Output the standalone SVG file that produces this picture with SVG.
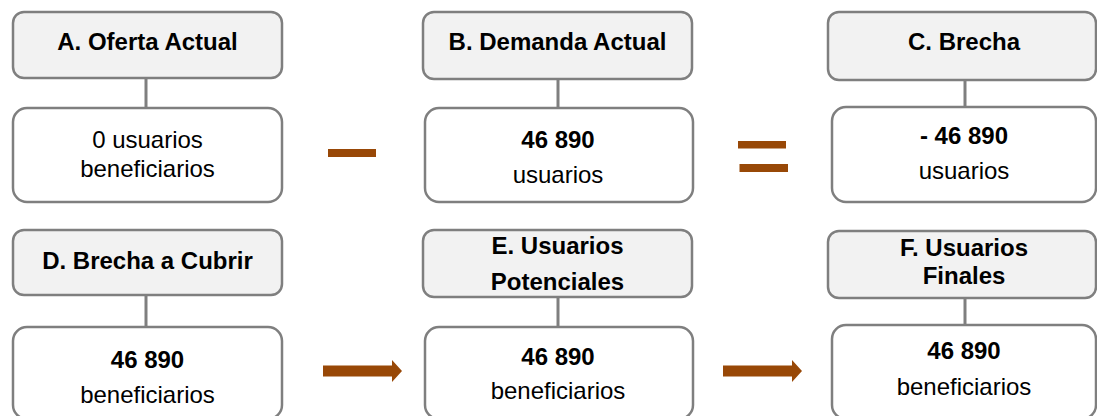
<svg xmlns="http://www.w3.org/2000/svg" width="1097" height="416" viewBox="0 0 1097 416">
<style>
.hd{fill:#f2f2f2;stroke:#7f7f7f;stroke-width:2.5}
.bd{fill:#ffffff;stroke:#7f7f7f;stroke-width:2.5}
.ln{stroke:#7f7f7f;stroke-width:3;fill:none}
.op{fill:#984807}
text{font-family:"Liberation Sans",Arial,sans-serif;font-size:24px;fill:#000;text-anchor:middle}
.b{font-weight:bold}
</style>
<rect width="1097" height="416" fill="#ffffff"/>
<g id="connectors">
<line class="ln" x1="146" y1="78" x2="146" y2="108"/>
<line class="ln" x1="558" y1="79" x2="558" y2="108"/>
<line class="ln" x1="965" y1="80" x2="965" y2="107"/>
<line class="ln" x1="146" y1="295" x2="146" y2="327"/>
<line class="ln" x1="558" y1="297" x2="558" y2="327"/>
<line class="ln" x1="965" y1="298" x2="965" y2="325"/>
</g>
<g id="operators">
<rect class="op" x="328" y="149" width="48" height="8"/>
<rect class="op" x="738" y="141" width="48" height="7.5"/>
<rect class="op" x="739.5" y="164" width="48.5" height="8"/>
<path class="op" d="M323 365.5 H392 V360 L402 371 L392 382 V376.5 H323 Z"/>
<path class="op" d="M723 365.5 H792 V360 L802 371 L792 382 V376.5 H723 Z"/>
</g>
<g id="nodeA">
<rect class="hd" x="13" y="12" width="269" height="66" rx="11"/>
<text class="b" x="147.5" y="50">A. Oferta Actual</text>
</g>
<g id="nodeA_val">
<rect class="bd" x="13" y="108" width="269" height="94" rx="14"/>
<text x="147.5" y="148">0 usuarios</text>
<text x="147.5" y="177">beneficiarios</text>
</g>
<g id="nodeB">
<rect class="hd" x="423" y="12" width="269" height="67" rx="11"/>
<text class="b" x="557.5" y="50">B. Demanda Actual</text>
</g>
<g id="nodeB_val">
<rect class="bd" x="425" y="108" width="268" height="94" rx="14"/>
<text class="b" x="558" y="148">46 890</text>
<text x="558" y="183">usuarios</text>
</g>
<g id="nodeC">
<rect class="hd" x="828" y="12" width="268" height="68" rx="11"/>
<text class="b" x="964" y="50">C. Brecha</text>
</g>
<g id="nodeC_val">
<rect class="bd" x="832" y="107" width="264" height="95" rx="14"/>
<text class="b" x="964" y="144">- 46 890</text>
<text x="964" y="179">usuarios</text>
</g>
<g id="nodeD">
<rect class="hd" x="13" y="230" width="269" height="65" rx="11"/>
<text class="b" x="147.5" y="269">D. Brecha a Cubrir</text>
</g>
<g id="nodeD_val">
<rect class="bd" x="13" y="327" width="269" height="92" rx="14"/>
<text class="b" x="147.5" y="368">46 890</text>
<text x="147.5" y="403">beneficiarios</text>
</g>
<g id="nodeE">
<rect class="hd" x="423" y="230" width="269" height="67" rx="11"/>
<text class="b" x="557.5" y="254">E. Usuarios</text>
<text class="b" x="557.5" y="290">Potenciales</text>
</g>
<g id="nodeE_val">
<rect class="bd" x="425" y="327" width="268" height="92" rx="14"/>
<text class="b" x="558" y="365">46 890</text>
<text x="558" y="399">beneficiarios</text>
</g>
<g id="nodeF">
<rect class="hd" x="828" y="231" width="268" height="67" rx="11"/>
<text class="b" x="964" y="256">F. Usuarios</text>
<text class="b" x="964" y="284">Finales</text>
</g>
<g id="nodeF_val">
<rect class="bd" x="832" y="325" width="264" height="94" rx="14"/>
<text class="b" x="964" y="359">46 890</text>
<text x="964" y="395">beneficiarios</text>
</g>
</svg>
